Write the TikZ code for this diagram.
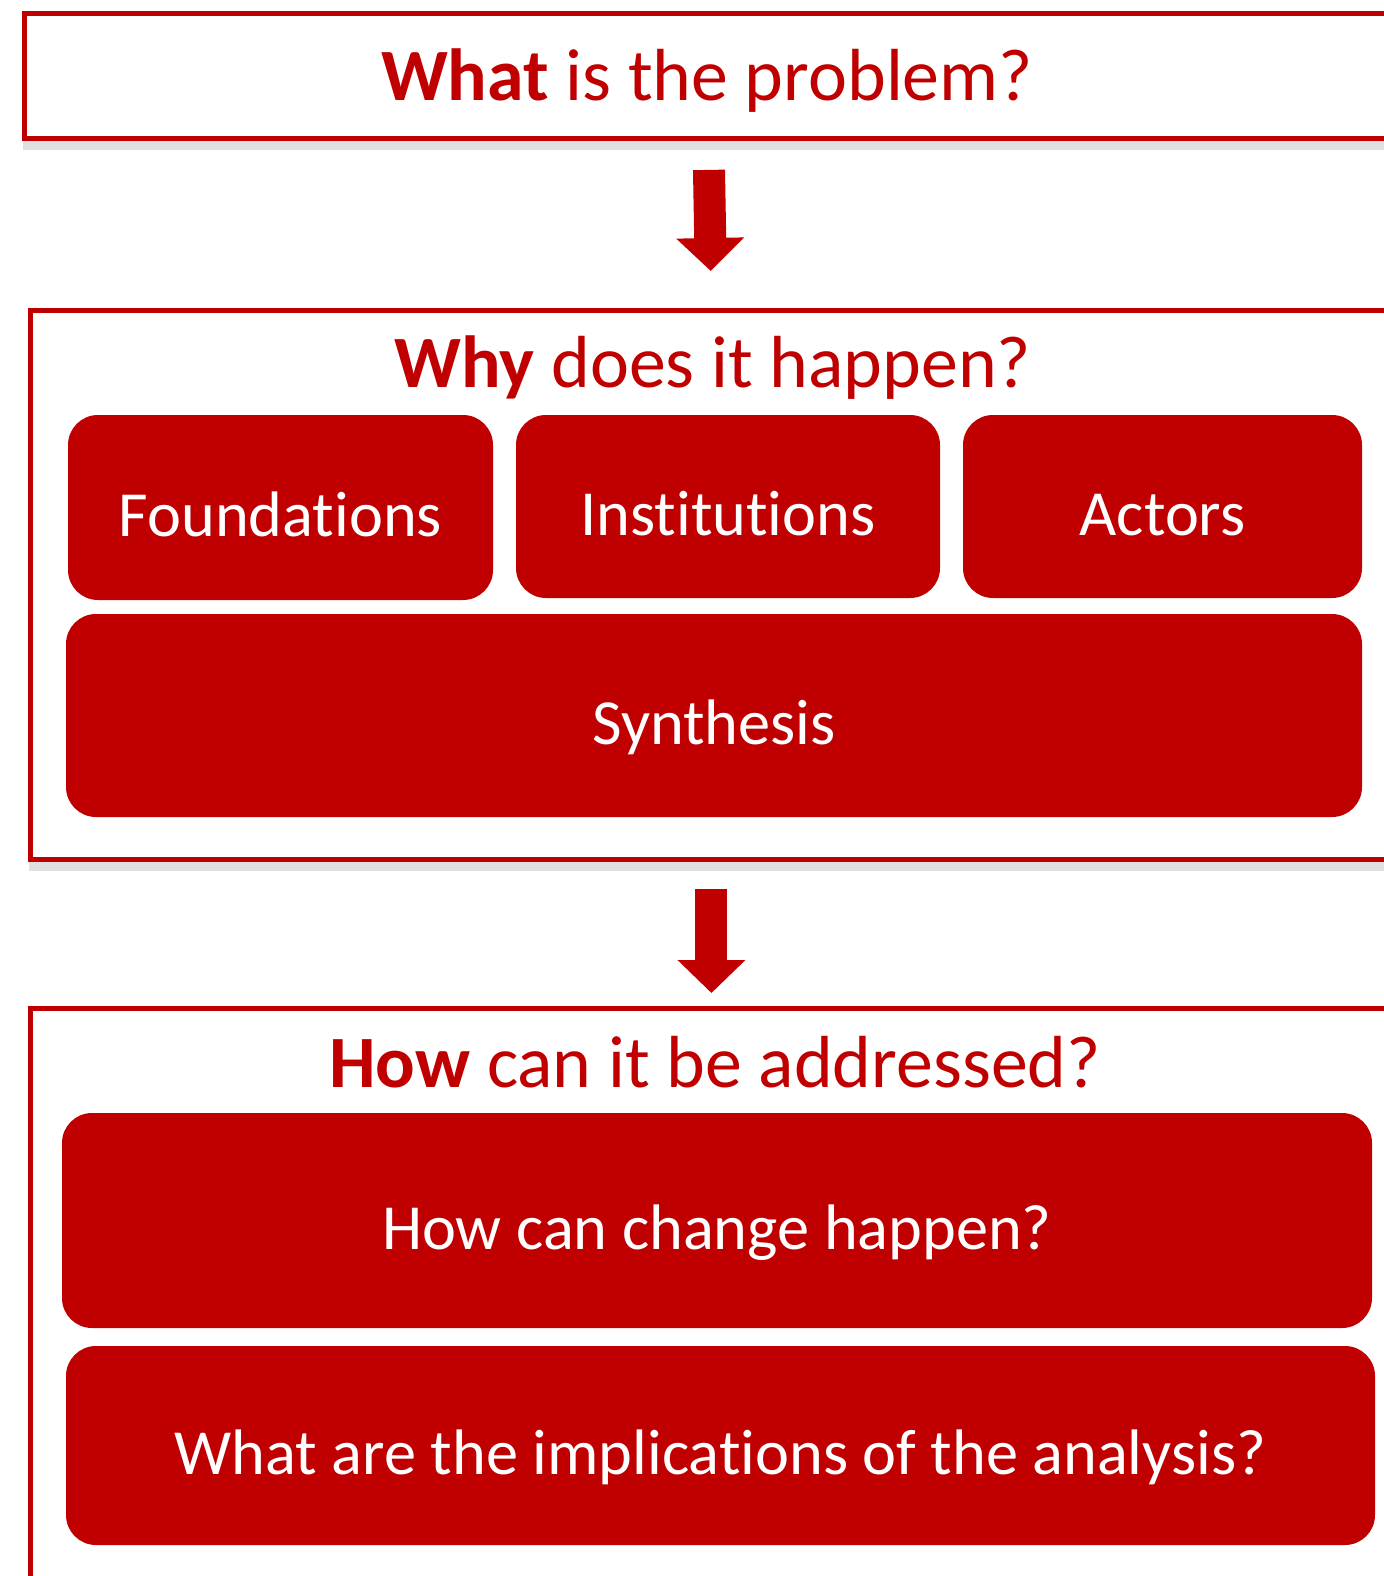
\documentclass[tikz,border=0pt]{standalone}
\usepackage{fontspec}
\setmainfont{Carlito}[RawFeature=-liga]
\usetikzlibrary{arrows.meta}
\definecolor{darkred}{RGB}{192,0,0}

\begin{document}
\begin{tikzpicture}[
	frame/.style={draw=darkred, line width=1.4pt, fill=white, anchor=north west, inner sep=0pt,
		preaction={draw=black, opacity=0.12, line width=3.5pt, transform canvas={xshift=1.4pt, yshift=-1.4pt}}},
	title/.style={text=darkred, anchor=base, font=\fontsize{21pt}{25pt}\selectfont},
	block/.style={fill=darkred, rounded corners=0.3cm, text=white, text height=0.57cm, text depth=0pt, font=\fontsize{18.3pt}{22pt}\selectfont},
	bigarrow/.style={darkred, line width=0.32cm, -{Triangle[width=0.66cm, length=0.33cm]}}
]
	\useasboundingbox (0,0) rectangle (13.84,-15.76);
	\clip (0,0) rectangle (13.84,-15.76);

	% the three frames
	\node[frame, minimum width=13.68cm, minimum height=1.25cm] (what) at (0.22,-0.11) {};
	\node[frame, minimum width=13.62cm, minimum height=5.49cm] (why) at (0.28,-3.08) {};
	\node[frame, minimum width=13.62cm, minimum height=6.00cm] (how) at (0.28,-10.06) {};

	\node[title] (whatT) at (7.07,-1.00) {\textbf{What} is the problem?};
	\node[title] (whyT) at (7.13,-3.87) {\textbf{Why} does it happen?};
	\node[title] (howT) at (7.15,-10.87) {\textbf{How} can it be addressed?};

	% inner blocks
	\node[block, minimum width=4.25cm, minimum height=1.85cm] (found) at (2.805,-5.075) {Foundations};
	\node[block, minimum width=4.24cm, minimum height=1.83cm] (inst) at (7.28,-5.065) {Institutions};
	\node[block, minimum width=3.99cm, minimum height=1.83cm] (act) at (11.625,-5.065) {Actors};
	\node[block, minimum width=12.96cm, minimum height=2.03cm] (synth) at (7.14,-7.155) {Synthesis};
	\node[block, minimum width=13.10cm, minimum height=2.15cm] (change) at (7.17,-12.205) {How can change happen?};
	\node[block, minimum width=13.09cm, minimum height=1.99cm] (impl) at (7.205,-14.455) {What are the implications of the analysis?};

	% arrows between the frames
	\draw[bigarrow, shorten <=0.29cm, shorten >=0.37cm] (what.south) -- (why.north);
	\draw[bigarrow, shorten <=0.27cm, shorten >=0.13cm] (why.south) -- (how.north);
\end{tikzpicture}
\end{document}
